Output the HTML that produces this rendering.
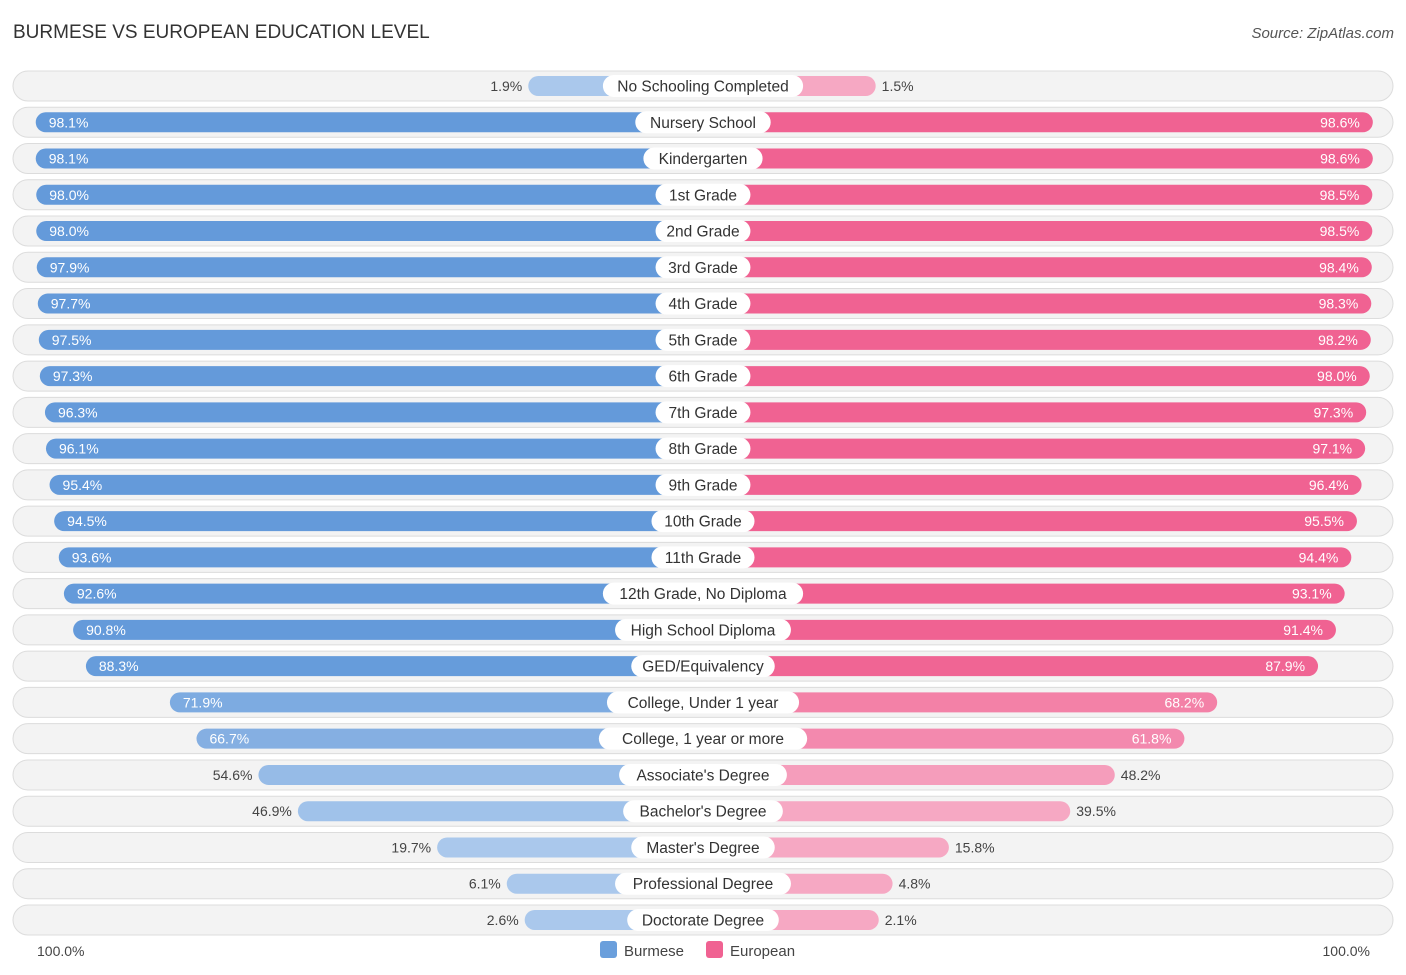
<!DOCTYPE html>
<html><head><meta charset="utf-8"><style>
body{margin:0;width:1406px;height:975px;background:#fff;font-family:"Liberation Sans",sans-serif;position:relative;overflow:hidden}
.t{position:absolute;left:13px;top:22px;font-size:19px;color:#333}
.src{position:absolute;right:12px;top:25px;font-size:15px;color:#555;font-style:italic}
</style></head><body>
<div class="t">BURMESE VS EUROPEAN EDUCATION LEVEL</div>
<div class="src">Source: ZipAtlas.com</div>
<svg id="c" width="1406" height="975" style="position:absolute;left:0;top:0"></svg>
<script>
const categories=["No Schooling Completed","Nursery School","Kindergarten","1st Grade","2nd Grade","3rd Grade","4th Grade","5th Grade","6th Grade","7th Grade","8th Grade","9th Grade","10th Grade","11th Grade","12th Grade, No Diploma","High School Diploma","GED/Equivalency","College, Under 1 year","College, 1 year or more","Associate's Degree","Bachelor's Degree","Master's Degree","Professional Degree","Doctorate Degree"];
const burmese=[1.9,98.1,98.1,98.0,98.0,97.9,97.7,97.5,97.3,96.3,96.1,95.4,94.5,93.6,92.6,90.8,88.3,71.9,66.7,54.6,46.9,19.7,6.1,2.6];
const european=[1.5,98.6,98.6,98.5,98.5,98.4,98.3,98.2,98.0,97.3,97.1,96.4,95.5,94.4,93.1,91.4,87.9,68.2,61.8,48.2,39.5,15.8,4.8,2.1];
const svg=document.getElementById('c');const NS='http://www.w3.org/2000/svg';
const cx=703,y0=86,dy=36.26;
function w(v){return 165+5.12*v;}
function mk(t,a,p){const e=document.createElementNS(NS,t);for(const k in a)e.setAttribute(k,a[k]);(p||svg).appendChild(e);return e;}
function mix(a,b,f){return 'rgb('+a.map((x,i)=>Math.round(x+(b[i]-x)*f)).join(',')+')';}
const blueS=[100,154,218],blueL=[170,200,236],pinkS=[240,98,146],pinkL=[246,168,195];
categories.forEach((c,i)=>{
 const y=y0+i*dy;
 const g=mk('g',{});
 
 
 const bg=mk('rect',{x:13,y:y-15,width:1380,height:30,rx:15,fill:'#f3f3f3',stroke:'#dcdcdc'},g);
 
 
 const bv=burmese[i],ev=european[i];
 const fb=Math.min(1,Math.max(0,(bv-40)/50)),fe=Math.min(1,Math.max(0,(ev-40)/50));
 const lb=mk('rect',{x:cx-w(bv),y:y-10,width:w(bv),height:20,rx:10,fill:mix(blueL,blueS,fb)},g);
 
 
 const rb=mk('rect',{x:cx,y:y-10,width:w(ev),height:20,rx:10,fill:mix(pinkL,pinkS,fe)},g);
 
 
 const lw=c.length*8.1+22;
 const lr=mk('rect',{x:cx-lw/2,y:y-11,width:lw,height:22,rx:11,fill:'#fff'},g);
 
 
 const lt=mk('text',{x:cx,y:y+5.5,'text-anchor':'middle','font-size':15.5,fill:'#333'},g);lt.textContent=c;
 
 
 const inB=bv>60,inE=ev>60;
 const bt=mk('text',{x:inB?cx-w(bv)+13:cx-w(bv)-6,y:y+5,'text-anchor':inB?'start':'end','font-size':14,fill:inB?'#fff':'#444'},g);bt.textContent=bv.toFixed(1)+'%';
 
 
 const et=mk('text',{x:inE?cx+w(ev)-13:cx+w(ev)+6,y:y+5,'text-anchor':inE?'end':'start','font-size':14,fill:inE?'#fff':'#444'},g);et.textContent=ev.toFixed(1)+'%';
 
 
});
const a1=mk('text',{x:37,y:956,'font-size':14,fill:'#444'});a1.textContent='100.0%';


const a2=mk('text',{x:1370,y:956,'font-size':14,fill:'#444','text-anchor':'end'});a2.textContent='100.0%';


const k1=mk('rect',{x:600,y:941,width:17,height:17,rx:3,fill:'#6a9fdc'});


const t1=mk('text',{x:624,y:956,'font-size':15,fill:'#444'});t1.textContent='Burmese';


const k2=mk('rect',{x:706,y:941,width:17,height:17,rx:3,fill:'#f06292'});


const t2=mk('text',{x:730,y:956,'font-size':15,fill:'#444'});t2.textContent='European';


</script>
</body></html>
